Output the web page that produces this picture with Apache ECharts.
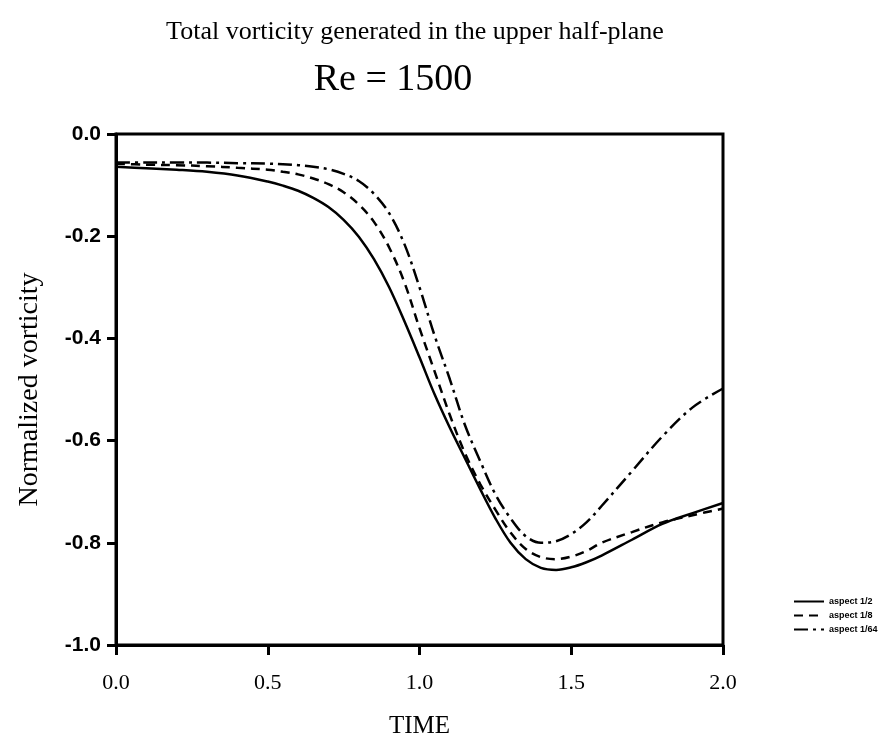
<!DOCTYPE html>
<html>
<head>
<meta charset="utf-8">
<script src="https://cdn.jsdelivr.net/npm/echarts@6/dist/echarts.min.js"></script>
<style>
  html, body { margin: 0; padding: 0; background: #fff; }
  #chart { width: 893px; height: 739px; }
</style>
</head>
<body>
<div id="chart"></div>
<script>
const time = [0, 0.1, 0.2, 0.3, 0.4, 0.5, 0.55, 0.6, 0.65, 0.7, 0.75, 0.8, 0.85, 0.9, 0.95, 1.0, 1.05,
  1.1, 1.15, 1.2, 1.25, 1.3, 1.35, 1.4, 1.45, 1.5, 1.55, 1.6, 1.7, 1.8, 1.9, 2.0]

// aspect 1/2 (solid)
const aspectHalf = [-0.064, -0.067, -0.070, -0.074, -0.081, -0.093, -0.101, -0.111, -0.125, -0.143,
  -0.168, -0.201, -0.245, -0.300, -0.366, -0.437, -0.510, -0.575, -0.635, -0.695, -0.752, -0.800,
  -0.832, -0.849, -0.853, -0.848, -0.838, -0.825, -0.794, -0.763, -0.742, -0.722]

// aspect 1/8 (dashed)
const aspectEighth = [-0.058, -0.060, -0.061, -0.063, -0.066, -0.070, -0.074, -0.079, -0.087, -0.098,
  -0.114, -0.138, -0.172, -0.222, -0.290, -0.380, -0.465, -0.550, -0.625, -0.685, -0.735, -0.780,
  -0.812, -0.828, -0.832, -0.827, -0.816, -0.800, -0.779, -0.760, -0.746, -0.733]

// aspect 1/64 (dash-dot)
const aspect64 = [-0.056, -0.056, -0.056, -0.056, -0.057, -0.058, -0.059, -0.061, -0.064, -0.069,
  -0.078, -0.092, -0.117, -0.155, -0.215, -0.300, -0.395, -0.480, -0.570, -0.640, -0.705, -0.752,
  -0.787, -0.800, -0.797, -0.783, -0.760, -0.728, -0.660, -0.592, -0.535, -0.498]

const xTicks = [0, 0.5, 1.0, 1.5, 2.0]
const yTicks = [0, -0.2, -0.4, -0.6, -0.8, -1.0]

const serif = '"Liberation Serif", "DejaVu Serif", serif'
const sans = '"Liberation Sans", Arial, sans-serif'

const pairs = (ys) => time.map((t, i) => [t, ys[i]])

const lineSeries = (name, ys, type) => ({
  name: name,
  type: 'line',
  data: pairs(ys),
  smooth: 0.35,
  symbol: 'none',
  lineStyle: { color: '#000', width: 2.5, type: type },
  itemStyle: { color: '#000' }
})

const option = {
  backgroundColor: '#fff',
  animation: false,
  title: [
    {
      text: 'Total vorticity generated in the upper half-plane',
      left: 410, top: 14, textAlign: 'center',
      textStyle: { fontFamily: serif, fontSize: 26, fontWeight: 'normal', color: '#000' }
    },
    {
      text: 'Re = 1500',
      left: 388, top: 56, textAlign: 'center',
      textStyle: { fontFamily: serif, fontSize: 38, fontWeight: 'normal', color: '#000' }
    }
  ],
  legend: {
    orient: 'vertical',
    left: 788,
    top: 592,
    itemWidth: 30,
    itemHeight: 10,
    itemGap: 5,
    itemStyle: { color: 'transparent', borderWidth: 0, opacity: 0 },
    textStyle: { fontFamily: sans, fontSize: 9, fontWeight: 'bold', color: '#000' },
    data: ['aspect 1/2', 'aspect 1/8', 'aspect 1/64']
  },
  grid: {
    left: 116, right: 170, top: 134, bottom: 94,
    outerBoundsMode: 'none',
    show: true, borderColor: '#000', borderWidth: 3, backgroundColor: 'transparent'
  },
  xAxis: {
    type: 'value',
    min: xTicks[0],
    max: xTicks[xTicks.length - 1],
    interval: 0.5,
    name: 'TIME',
    nameLocation: 'middle',
    nameGap: 69,
    nameTextStyle: { fontFamily: serif, fontSize: 25, color: '#000' },
    axisLine: { show: true, onZero: false, lineStyle: { color: '#000', width: 3 } },
    axisTick: { show: true, inside: false, length: 10, lineStyle: { color: '#000', width: 3 } },
    axisLabel: {
      margin: 27, color: '#000', fontFamily: serif, fontSize: 22,
      formatter: (v) => v.toFixed(1)
    },
    splitLine: { show: false }
  },
  yAxis: {
    type: 'value',
    min: yTicks[yTicks.length - 1],
    max: yTicks[0],
    interval: 0.2,
    name: 'Normalized vorticity',
    nameLocation: 'middle',
    nameGap: 72,
    nameTextStyle: { fontFamily: serif, fontSize: 28, color: '#000' },
    axisLine: { show: true, onZero: false, lineStyle: { color: '#000', width: 3 } },
    axisTick: { show: true, inside: false, length: 9, lineStyle: { color: '#000', width: 3 } },
    axisLabel: {
      margin: 15, color: '#000', fontFamily: sans, fontSize: 21, fontWeight: 'bold',
      formatter: (v) => v.toFixed(1)
    },
    splitLine: { show: false }
  },
  series: [
    lineSeries('aspect 1/2', aspectHalf, 'solid'),
    lineSeries('aspect 1/8', aspectEighth, [9, 6]),
    lineSeries('aspect 1/64', aspect64, [14, 5, 3, 5])
  ]
}

const myChart = echarts.init(document.getElementById('chart'))
option && myChart.setOption(option)
</script>
</body>
</html>
